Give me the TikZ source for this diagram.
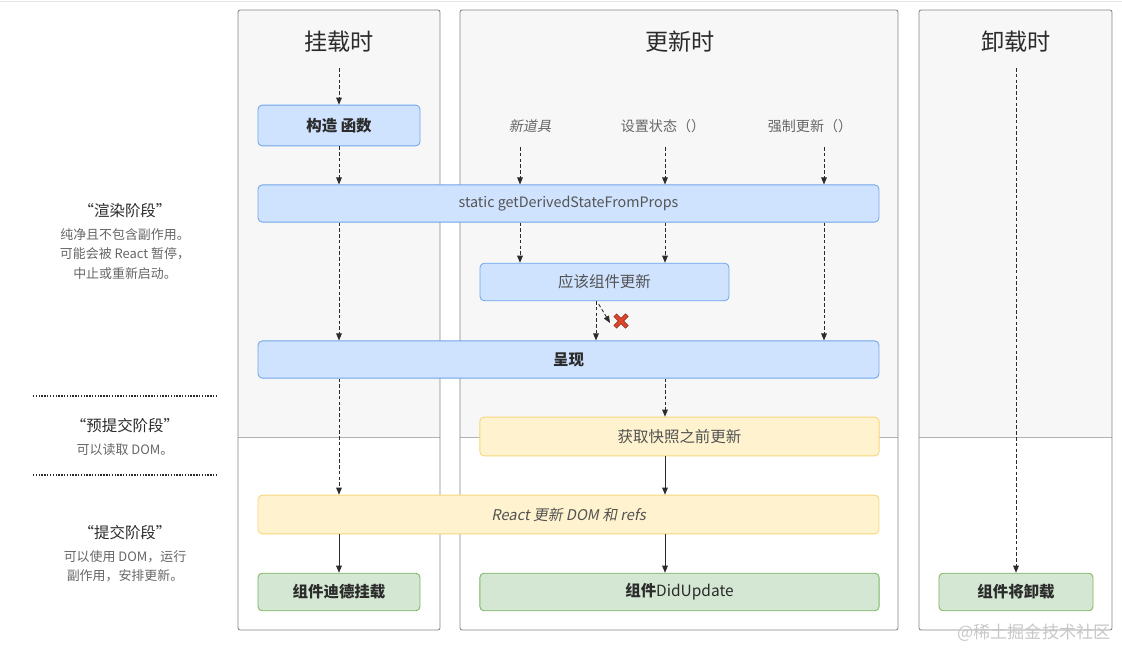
\documentclass[tikz,border=0pt]{standalone}
\usepackage{fontspec}
\setmainfont{Noto Sans CJK SC}
\newfontfamily\slantfont[FakeSlant=0.2]{Noto Sans CJK SC}
\usetikzlibrary{arrows.meta,positioning}
\definecolor{colfill}{HTML}{F7F7F7}
\definecolor{colline}{HTML}{858585}
\definecolor{bluefill}{HTML}{CFE3FF}
\definecolor{blueline}{HTML}{6FA6E8}
\definecolor{yellowfill}{HTML}{FFF3CF}
\definecolor{yellowline}{HTML}{F5D77A}
\definecolor{greenfill}{HTML}{D3E7D2}
\definecolor{greenline}{HTML}{7DB263}
\definecolor{textdark}{HTML}{2B2B2B}
\definecolor{textgrey}{HTML}{666666}
\definecolor{crossred}{HTML}{E0452B}

\begin{document}
\begin{tikzpicture}[x=0.025cm,y=-0.025cm,
	font=\fontsize{11pt}{13pt}\selectfont,
	column/.style={draw=colline,line width=0.6pt,rounded corners=1.5pt},
	title/.style={font=\fontsize{16.5pt}{18pt}\selectfont,text=textdark},
	hook/.style={rounded corners=3pt,line width=0.6pt,minimum height=0.94cm,inner sep=0pt,text=textdark},
	bluebox/.style={hook,fill=bluefill,draw=blueline},
	yellowbox/.style={hook,fill=yellowfill,draw=yellowline},
	greenbox/.style={hook,fill=greenfill,draw=greenline,font=\fontsize{11pt}{13pt}\selectfont\bfseries},
	cause/.style={text=textgrey,font=\fontsize{10pt}{12pt}\selectfont},
	phase/.style={text=textdark,font=\fontsize{11pt}{13pt}\selectfont},
	phasenote/.style={text=textgrey,font=\fontsize{9.2pt}{14pt}\selectfont,align=center},
	dasharrow/.style={draw=textdark,line width=0.6pt,dash pattern=on 2.5pt off 1.6pt,-{Triangle[length=5pt,width=4pt]}},
	solidarrow/.style={draw=textdark,line width=0.6pt,-{Triangle[length=5pt,width=4pt]}},
	divider/.style={draw=textdark,line width=1pt,dash pattern=on 1pt off 1pt}
	]
	\useasboundingbox (0,0) rectangle (1122,649);
	\draw[draw=black!9,line width=0.8pt] (0,1.5) -- (1122,1.5);

	\fill[colfill] (238,10) rectangle (440,437);
	\fill[colfill] (460,10) rectangle (898,437);
	\fill[colfill] (919,10) rectangle (1112,437);
	\draw[black!30,line width=0.6pt] (238,437) -- (440,437);
	\draw[black!30,line width=0.6pt] (460,437) -- (898,437);
	\draw[black!30,line width=0.6pt] (919,437) -- (1112,437);
	\draw[column] (238,10) rectangle (440,630);
	\draw[column] (460,10) rectangle (898,630);
	\draw[column] (919,10) rectangle (1112,630);

	\node[title] (mount) at (339,42) {挂载时};
	\node[title] (update) at (680,42) {更新时};
	\node[title] (unmount) at (1016,42) {卸载时};

	\node[bluebox,minimum width=4.05cm,minimum height=1.02cm,font=\fontsize{11pt}{13pt}\selectfont\bfseries] (ctor) at (339,125.5) {构造 函数};
	\node[bluebox,minimum width=15.52cm,minimum height=0.93cm,font=\fontsize{10.2pt}{13pt}\selectfont,text=textdark!80] (gdsfp) at (568.5,203.5) {static getDerivedStateFromProps};
	\node[bluebox,minimum width=6.22cm,text=textgrey!80!black] (scu) at (604.5,282) {应该组件更新};
	\node[bluebox,minimum width=15.52cm,minimum height=0.93cm,font=\fontsize{11pt}{13pt}\selectfont\bfseries] (render) at (568.5,359.5) {呈现};
	\node[yellowbox,minimum width=9.98cm,minimum height=0.97cm,text=textgrey!80!black] (gsbu) at (679.5,436.5) {获取快照之前更新};
	\node[yellowbox,minimum width=15.52cm,minimum height=0.97cm,text=textgrey!80!black,font=\fontsize{10.5pt}{13pt}\slantfont] (commit) at (568.5,514.5) {React 更新 DOM 和 refs};
	\node[greenbox,minimum width=4.05cm] (cdm) at (339,592) {组件迪德挂载};
	\node[greenbox,minimum width=9.98cm] (cdu) at (679.5,592) {组件{\mdseries DidUpdate}};
	\node[greenbox,minimum width=3.85cm] (cwu) at (1016,592) {组件将卸载};

	\node[cause,font=\fontsize{10pt}{12pt}\slantfont] (props) at (530,126) {新道具};
	\node[cause] (setstate) at (663,126) {设置状态（）};
	\node[cause] (force) at (810,126) {强制更新（）};

	\coordinate (m0) at (339,68);
	\coordinate (u0) at (1016,68);
	\coordinate (p0) at (520,147);
	\coordinate (s0) at (665,147);
	\coordinate (f0) at (824,147);
	\coordinate (n0) at (596,301);
	\coordinate (x0) at (598,303);
	\coordinate (x1) at (610,323);
	\coordinate (cross) at (621,321);

	\draw[dasharrow] (m0) -- (ctor.north);
	\draw[dasharrow] (ctor.south) -- (ctor.south |- gdsfp.north);
	\draw[dasharrow] (ctor.south |- gdsfp.south) -- (ctor.south |- render.north);
	\draw[dasharrow] (ctor.south |- render.south) -- (ctor.south |- commit.north);
	\draw[solidarrow] (ctor.south |- commit.south) -- (cdm.north);

	\draw[dasharrow] (p0) -- (p0 |- gdsfp.north);
	\draw[dasharrow] (s0) -- (s0 |- gdsfp.north);
	\draw[dasharrow] (f0) -- (f0 |- gdsfp.north);
	\draw[dasharrow] (p0 |- gdsfp.south) -- (p0 |- scu.north);
	\draw[dasharrow] (s0 |- gdsfp.south) -- (s0 |- scu.north);
	\draw[dasharrow] (f0 |- gdsfp.south) -- (f0 |- render.north);
	\draw[dasharrow] (n0) -- (n0 |- render.north);
	\draw[dasharrow,shorten <=1pt] (x0) -- (x1);
	\draw[dasharrow] (s0 |- render.south) -- (s0 |- gsbu.north);
	\draw[solidarrow] (s0 |- gsbu.south) -- (s0 |- commit.north);
	\draw[solidarrow] (s0 |- commit.south) -- (s0 |- cdu.north);
	\draw[dasharrow] (u0) -- (cwu.north);

	\draw[crossred!60!black,line width=3.2pt] ([shift={(-6,-6)}]cross) -- ([shift={(6,6)}]cross) ([shift={(-6,6)}]cross) -- ([shift={(6,-6)}]cross);
	\draw[crossred,line width=2.2pt] ([shift={(-5.6,-5.6)}]cross) -- ([shift={(5.6,5.6)}]cross) ([shift={(-5.6,5.6)}]cross) -- ([shift={(5.6,-5.6)}]cross);

	\node[phase] (renderphase) at (125,211) {“渲染阶段”};
	\node[phasenote,below=0pt of renderphase] (rendernote) {纯净且不包含副作用。\\可能会被 React 暂停，\\中止或重新启动。};
	\draw[divider] (33,396) -- (218,396);
	\node[phase] (precommit) at (125,426) {“预提交阶段”};
	\node[phasenote,below=0pt of precommit] (precommitnote) {可以读取 DOM。};
	\draw[divider] (33,475) -- (218,475);
	\node[phase] (commitphase) at (125,533) {“提交阶段”};
	\node[phasenote,below=0pt of commitphase] (commitnote) {可以使用 DOM，运行\\副作用，安排更新。};

	\node[text=black!22,font=\fontsize{12.2pt}{14pt}\selectfont] (mark) at (1034,633) {@稀土掘金技术社区};
\end{tikzpicture}
\end{document}
